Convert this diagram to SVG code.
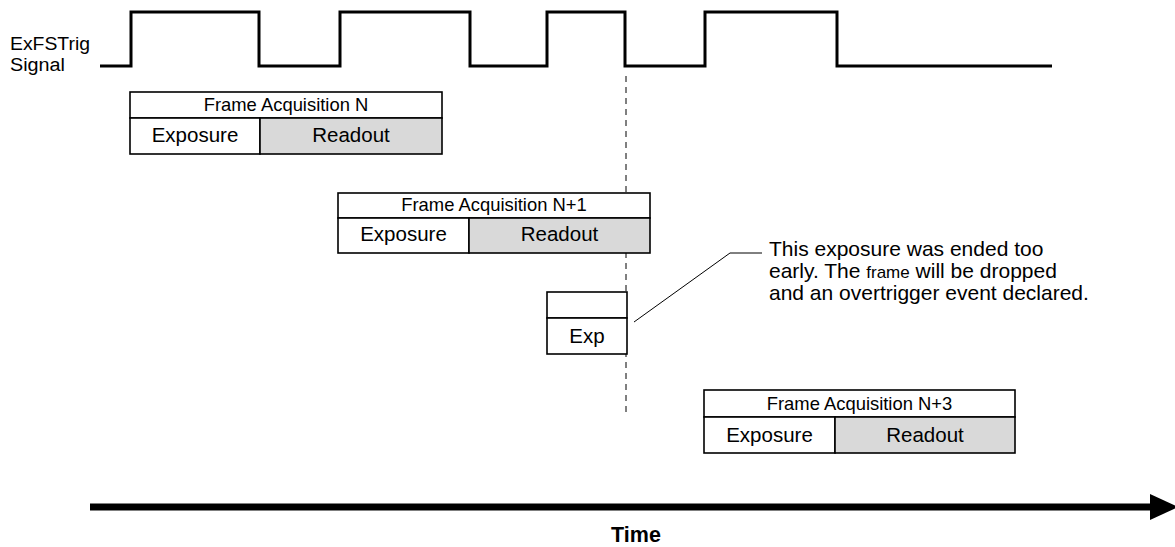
<svg xmlns="http://www.w3.org/2000/svg" width="1175" height="547" viewBox="0 0 1175 547">
<style>
text{font-family:"Liberation Sans",Arial,Helvetica,sans-serif;fill:#000}
.lbl{font-size:20.5px;text-anchor:middle}
.hdr{font-size:18.4px;text-anchor:middle}
.box{fill:#fff;stroke:#000;stroke-width:1.6}
.ro{fill:#d9d9d9;stroke:#000;stroke-width:1.6}
.ann{font-size:21px}
.sig{font-size:18px}
</style>
<rect width="1175" height="547" fill="#fff"/>
<g id="signal">
<text class="sig" x="10" y="50" textLength="80" lengthAdjust="spacingAndGlyphs">ExFSTrig</text>
<text class="sig" x="10" y="70.5" textLength="55" lengthAdjust="spacingAndGlyphs">Signal</text>
<path d="M100,66 H131 V12 H259 V66 H340 V12 H470 V66 H547 V12 H625 V66 H705 V12 H837 V66 H1052" fill="none" stroke="#000" stroke-width="3"/>
</g>
<g id="connectors">
<line x1="626" y1="76" x2="626" y2="416" stroke="#000" stroke-width="1" stroke-dasharray="6,5"/>
<polyline points="634,322 730,253 762,253" fill="none" stroke="#000" stroke-width="1"/>
<line x1="90" y1="507" x2="1152" y2="507" stroke="#000" stroke-width="7"/>
<polygon points="1150,494 1178,507 1150,520" fill="#000"/>
</g>
<g id="frameN">
<rect class="box" x="130" y="92" width="312" height="26"/>
<rect class="box" x="130" y="118" width="130" height="36"/>
<rect class="ro" x="260" y="118" width="182" height="36"/>
<text class="hdr" x="286" y="111">Frame Acquisition N</text>
<text class="lbl" x="195" y="142">Exposure</text>
<text class="lbl" x="351" y="142">Readout</text>
</g>
<g id="frameN1">
<rect class="box" x="338" y="193" width="312" height="25"/>
<rect class="box" x="338" y="218" width="131" height="35"/>
<rect class="ro" x="469" y="218" width="181" height="35"/>
<text class="hdr" x="494" y="211">Frame Acquisition N+1</text>
<text class="lbl" x="403.5" y="241">Exposure</text>
<text class="lbl" x="559.5" y="241">Readout</text>
</g>
<g id="frameN2">
<rect class="box" x="547" y="292" width="80" height="26"/>
<rect class="box" x="547" y="318" width="80" height="36"/>
<text class="lbl" x="587" y="343">Exp</text>
</g>
<g id="annotation">
<text class="ann" x="769" y="256">This exposure was ended too</text>
<text class="ann" x="769" y="278">early. The <tspan style="font-size:17px">frame</tspan> will be dropped</text>
<text class="ann" x="769" y="300">and an overtrigger event declared.</text>
</g>
<g id="frameN3">
<rect class="box" x="704" y="390" width="311" height="27"/>
<rect class="box" x="704" y="417" width="131" height="36"/>
<rect class="ro" x="835" y="417" width="180" height="36"/>
<text class="hdr" x="859.5" y="410">Frame Acquisition N+3</text>
<text class="lbl" x="769.5" y="442">Exposure</text>
<text class="lbl" x="925" y="442">Readout</text>
</g>
<g id="timeLabel">
<text x="636" y="542" style="font-size:21.5px;font-weight:bold;text-anchor:middle">Time</text>
</g>
</svg>
